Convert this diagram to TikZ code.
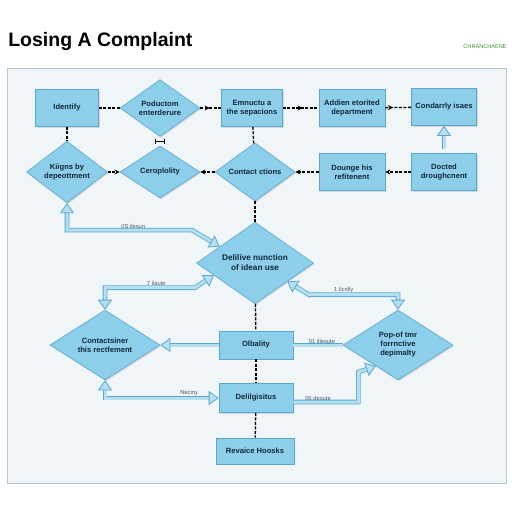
\documentclass[tikz,border=0pt]{standalone}
\usepackage{fontspec}
\setmainfont{Liberation Sans}
\usetikzlibrary{arrows.meta, positioning, shapes.geometric, calc, shadows, decorations.markings}
\definecolor{cfill}{HTML}{8DCFEA}
\definecolor{cedge}{HTML}{5BA7CC}
\definecolor{cink}{HTML}{13263A}
\definecolor{cframe}{HTML}{F0F5F8}
\definecolor{cline}{HTML}{B0C6D4}
\definecolor{cgreen}{HTML}{3E8E2E}
\definecolor{cgrey}{HTML}{505A62}
\tikzset{
  every picture/.style={line width=0.6pt},
  box/.style={draw=cedge, fill=cfill, align=center, inner sep=2pt, text=cink,
    font=\bfseries\fontsize{7.6}{9}\selectfont,
    drop shadow={opacity=0.25, shadow xshift=1.2pt, shadow yshift=-1.2pt}},
  diam/.style={box, diamond, inner sep=0pt},
  dashlink/.style={draw=black, line width=1.3pt, dash pattern=on 3pt off 1.5pt},
  midtip/.style={postaction={decorate}, decoration={markings,
    mark=at position #1 with {\arrow[solid]{Stealth[length=5pt, width=5pt]}}}},
  midtip/.default=0.5,
  endtip/.style={-{Stealth[length=5pt, width=5pt]}},
  hollow/.style={draw=cedge, double=cfill!65!white, double distance=3pt, line width=0.8pt},
  htip/.tip={Triangle[length=10pt, width=14pt, open, fill=cfill!65!white, line width=0.8pt]},
  tag/.style={font=\fontsize{5.8}{6}\selectfont, text=cgrey, inner sep=1.5pt},
  title/.style={font=\bfseries\fontsize{19.5}{22}\selectfont, text=black},
}
\begin{document}
\begin{tikzpicture}[x=1pt, y=-1pt]
  \useasboundingbox[fill=white] (0,0) rectangle (512,512);
  \node[title, anchor=west, inner sep=0pt] (title) at (8,41) {Losing A Complaint};
  \node[anchor=east, text=cgreen, font=\fontsize{5.6}{6}\selectfont, inner sep=0pt] (brand) at (507,47) {CHRANCHAENE};
  \draw[cline, fill=cframe] (7,68) rectangle (506,483);

  % top row
  \node[box, minimum width=63pt, minimum height=37pt] (ident) at (67,108) {Identify};
  \node[diam, minimum width=80pt, minimum height=53pt] (prod) at (160,108) {Poductom\\enterderure};
  \node[box, minimum width=61pt, minimum height=37pt] (emn) at (252,108) {Emnuctu a\\the sepacions};
  \node[box, minimum width=66pt, minimum height=37pt] (addien) at (352,108) {Addien etorited\\department};
  \node[box, minimum width=65pt, minimum height=37pt] (cond) at (444,107) {Condarrly isaes};

  % second row
  \node[diam, minimum width=81pt, minimum height=52pt] (kiigns) at (67,172) {Kiigns by\\depeottment};
  \node[diam, minimum width=80pt, minimum height=52pt] (cerop) at (160,172) {Ceroplolity};
  \node[diam, minimum width=80pt, minimum height=52pt] (contact) at (255,172) {Contact ctions};
  \node[box, minimum width=66pt, minimum height=37pt] (dounge) at (352,172) {Dounge his\\refitenent};
  \node[box, minimum width=65pt, minimum height=37pt] (docted) at (444,172) {Docted\\droughcnent};

  % centre and lower part
  \node[diam, minimum width=117pt, minimum height=74pt, font=\bfseries\fontsize{8.2}{10}\selectfont] (deliv) at (255,263) {Delilive nunction\\of idean use};
  \node[diam, minimum width=110pt, minimum height=70pt] (contsin) at (105,345) {Contactsiner\\this rectfement};
  \node[box, minimum width=74pt, minimum height=28pt] (olb) at (256,345) {Olbality};
  \node[diam, minimum width=110pt, minimum height=70pt] (pop) at (398,345) {Pop-of tmr\\forrnctive\\depimalty};
  \node[box, minimum width=74pt, minimum height=29pt] (delg) at (256,398) {Delilgisitus};
  \node[box, minimum width=78pt, minimum height=26pt] (reva) at (255,451) {Revaice Hoosks};

  % dashed links
  \draw[dashlink] (ident) -- (prod);
  \draw[dashlink, midtip=0.45] (prod) -- (emn);
  \draw[dashlink, midtip=0.55] (emn) -- (addien);
  \draw[dashlink, midtip=0.3] (addien) -- (cond);
  \draw[dashlink] (ident) -- (kiigns);
  \draw[dashlink] (emn) -- (contact);
  \draw[dashlink, endtip] (kiigns) -- (cerop);
  \draw[dashlink, endtip] (contact) -- (cerop);
  \draw[dashlink, endtip] (dounge) -- (contact);
  \draw[dashlink, endtip] (docted) -- (dounge);
  \draw[dashlink] (contact) -- (deliv);
  \draw[dashlink] (deliv) -- (olb);
  \draw[dashlink] (olb) -- (delg);
  \draw[dashlink] (delg) -- (reva);
  \draw[line width=1.3pt, {Bar[width=5pt]}-{Bar[width=5pt]}] ($(prod.south)!0.5!(cerop.north)+(-5,0)$) -- ++(10,0);

  % hollow links
  \draw[hollow, {htip}-, shorten >=4pt] (cond) -- (docted);
  \draw[hollow, {htip}-{htip}] (kiigns.south) -- ++(0,27)
    -- node[tag, above, pos=0.53] {0S ilesun} ++(125,0) -- ($(deliv.west)!0.4!(deliv.north)$);
  \draw[hollow, {htip}-{htip}] (contsin.north) -- ++(0,-22)
    -- node[tag, above, pos=0.57] {7 ilaute} ++(90,0) -- ($(deliv.west)!0.3!(deliv.south)$);
  \draw[hollow, {htip}-{htip}] (pop.north) -- ++(0,-15)
    -- node[tag, above, pos=0.61] {1 ilcolly} ++(-89,0) -- ($(deliv.east)!0.45!(deliv.south)$);
  \draw[hollow, -{htip}] (olb) -- (contsin);
  \draw[hollow] (pop) -- node[tag, above, pos=0.42] {01 illesute} (olb);
  \draw[hollow, {htip}-{htip}] (contsin.south) |- node[tag, above, pos=0.87] {Neciny} (delg.west);
  \draw[hollow, -{htip}] ([yshift=-4pt]delg.east) -- node[tag, above, pos=0.38] {06 desute} ++(65,0)
    -- ++(0,-30) -- ($(pop.west)!0.6!(pop.south)$);
\end{tikzpicture}
\end{document}
